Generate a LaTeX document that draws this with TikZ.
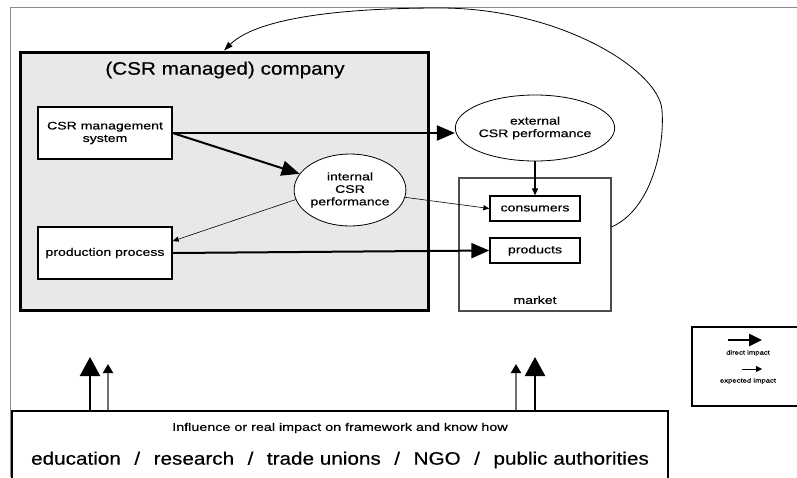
\documentclass[tikz,border=0pt]{standalone}
\usepackage{fontspec}
\setmainfont[FakeStretch=1.15,FakeBold=0.4]{Liberation Sans}
\newfontfamily\smallf[FakeStretch=1.28,FakeBold=0.4]{Liberation Sans}
\usetikzlibrary{arrows.meta,shapes.geometric,calc}
\begin{document}
\begin{tikzpicture}[x=1pt,y=-1pt,
  box/.style={draw, line width=1.3pt, fill=white, inner sep=0pt, align=center,
    font=\smallf\fontsize{11}{12.5}\selectfont},
  oval/.style={draw, ellipse, line width=0.8pt, fill=white, inner sep=0pt, align=center,
    font=\smallf\fontsize{11}{12.5}\selectfont},
  lbl/.style={inner sep=0pt, font=\smallf\fontsize{11}{12.5}\selectfont},
  bigarrow/.style={-{Triangle[length=18pt,width=15pt]}, line width=2pt},
  thinarrow/.style={-{Triangle[length=6pt,width=5pt]}, line width=0.6pt},
  midarrow/.style={-{Triangle[length=7pt,width=6pt]}, line width=1.1pt},
  upbig/.style={-{Triangle[length=19pt,width=20pt]}, line width=2.4pt},
  upthin/.style={-{Triangle[length=9pt,width=10pt,black]}, line width=2pt, draw=black!55},
  curvearrow/.style={-{Triangle[length=9pt,width=6pt]}, line width=0.8pt},
]
\useasboundingbox (0,0) rectangle (797,477);
\fill[white] (0,0) rectangle (797,477);
% outer frame
\draw[black!45, line width=1pt] (10,477) -- (10,7) -- (797,7);

% company
\node[draw, line width=3pt, fill=black!9, minimum width=408pt, minimum height=258pt, inner sep=0pt] (comp) at (224,181) {};
\node[inner sep=0pt, font=\fontsize{18}{20}\selectfont] (title) at (225,70) {(CSR managed) company};

\node[box, minimum width=134pt, minimum height=52pt] (csr) at (105,133) {CSR management\\system};
\node[box, minimum width=134pt, minimum height=52pt] (pp) at (105,253) {production process};
\node[oval, minimum width=106pt, minimum height=72pt] (int) at (350,190) {internal\\CSR\\performance};

% market
\node[draw=black!70, line width=1.8pt, fill=white, minimum width=152pt, minimum height=133pt, inner sep=0pt] (market) at (535,244.5) {};
\node[lbl] (mlabel) at (535,300) {market};
\node[box, minimum width=90pt, minimum height=25pt] (cons) at (535,208.5) {consumers};
\node[box, minimum width=90pt, minimum height=25pt] (prod) at (535,250.5) {products};
\node[oval, minimum width=144pt, minimum height=66pt] (ext) at (535,128) {external\\CSR performance};

% connectors
\draw[bigarrow] (csr.east) -- (csr.east -| ext.west);
\draw[bigarrow] (csr.east) -- (int);
\draw[thinarrow] (int.190) -- (pp.10);
\draw[thinarrow] (int) -- (cons.west);
\draw[bigarrow] (pp.east) -- (prod.west);
\draw[midarrow] (ext.south) -- (cons.north);
\draw[curvearrow] (market.13) .. controls (650,210) and (665,150) .. (662,110)
  .. controls (659,70) and (560,8) .. (440,8)
  .. controls (330,8) and (255,20) .. (comp.north);

% bottom box
\node[draw, line width=2pt, fill=white, minimum width=656pt, minimum height=69pt, inner sep=0pt] (bot) at (340,445.5) {};
\node[inner sep=0pt, font=\smallf\fontsize{11.2}{12.5}\selectfont] (infl) at (340,428) {Influence or real impact on framework and know how};
\node[inner sep=0pt, font=\fontsize{18}{20}\selectfont] (groups) at (340,460)
  {education\hspace{0.75em}/\hspace{0.75em}research\hspace{0.75em}/\hspace{0.75em}trade unions\hspace{0.75em}/\hspace{0.75em}NGO\hspace{0.75em}/\hspace{0.75em}public authorities};

\coordinate (a1) at (90,357);
\coordinate (a2) at (108,364);
\coordinate (a3) at (516,364);
\coordinate (a4) at (535,357);
\draw[upbig] (a1 |- bot.north) -- (a1);
\draw[upthin] (a2 |- bot.north) -- (a2);
\draw[upthin] (a3 |- bot.north) -- (a3);
\draw[upbig] (a4 |- bot.north) -- (a4);

% legend
\node[draw, line width=1.5pt, fill=white, minimum width=108pt, minimum height=79pt, inner sep=0pt] (legend) at (746,366.5) {};
\coordinate (l1s) at (728,340);
\coordinate (l1e) at (762,340);
\coordinate (l2s) at (742,369);
\coordinate (l2e) at (762,369);
\draw[-{Triangle[length=13pt,width=12pt]}, line width=2.5pt] (l1s) -- (l1e);
\draw[-{Triangle[length=6pt,width=6pt]}, line width=0.8pt] (l2s) -- (l2e);
\node[inner sep=0pt, font=\smallf\fontsize{6}{7}\selectfont] (ld) at (748,353) {direct impact};
\node[inner sep=0pt, font=\smallf\fontsize{6}{7}\selectfont] (le) at (748,381) {expected impact};
\end{tikzpicture}
\end{document}
